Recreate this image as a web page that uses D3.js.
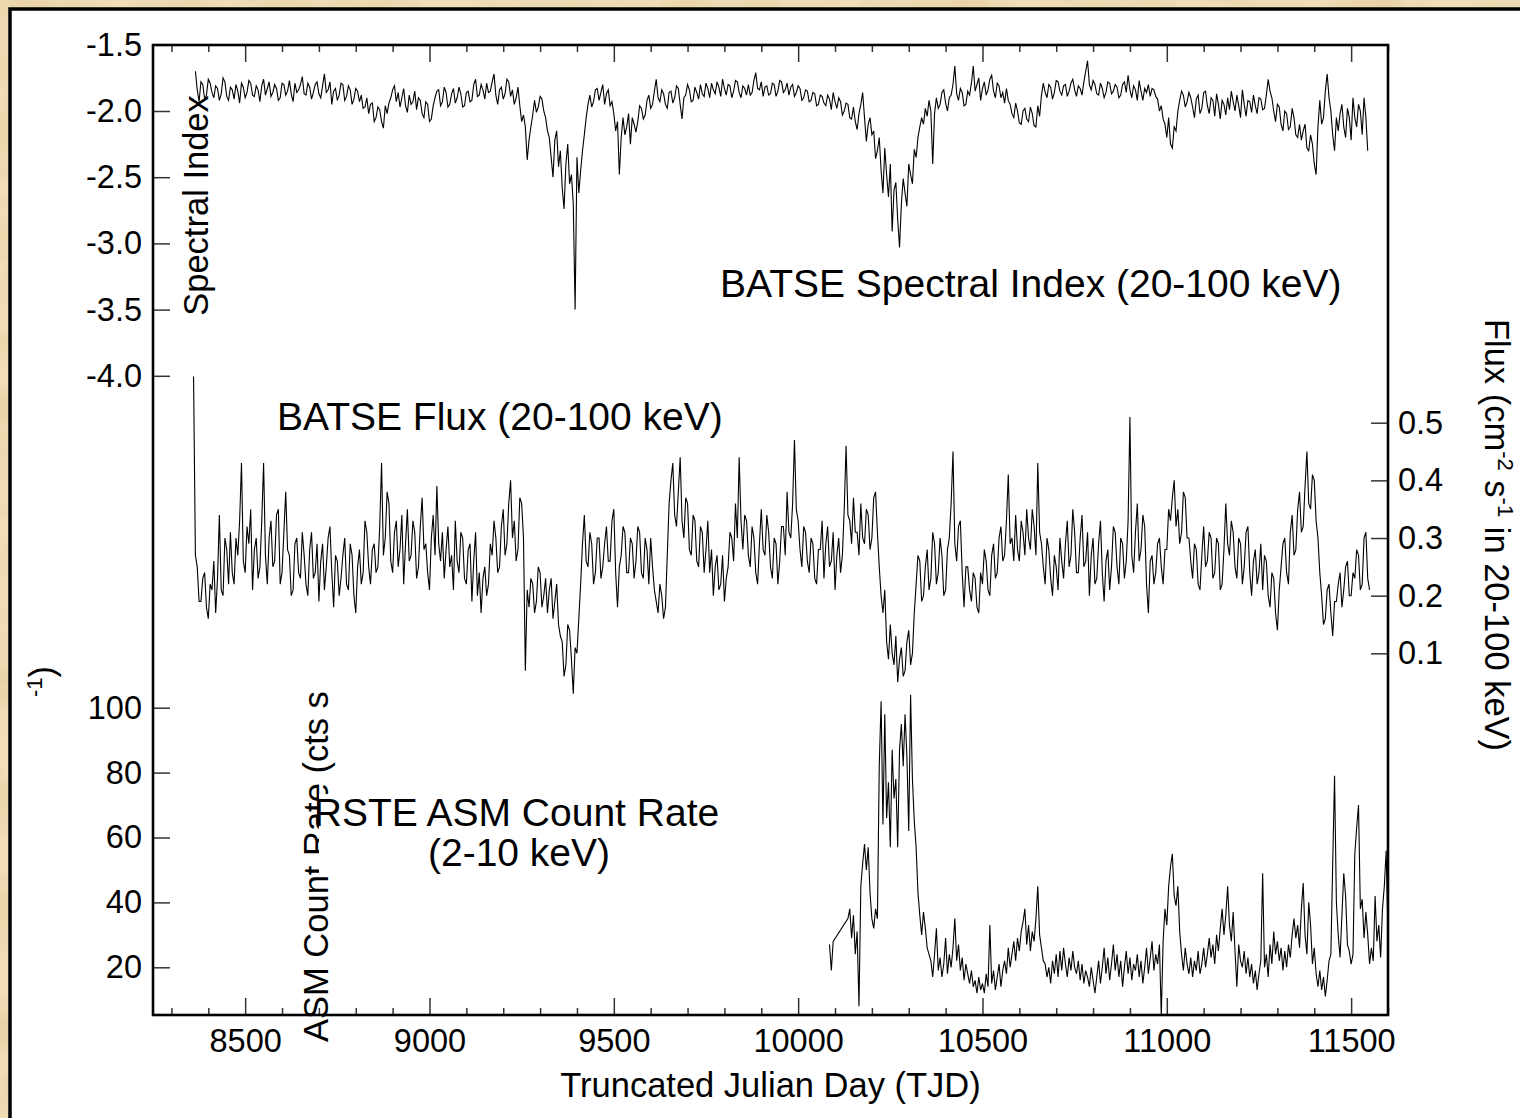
<!DOCTYPE html>
<html><head><meta charset="utf-8">
<script src="https://cdn.jsdelivr.net/npm/d3@7"></script>
<style>html,body{margin:0;padding:0;background:#f0ddb4;}svg{display:block;}</style>
</head><body>
<svg id="chart" width="1520" height="1118"></svg>
<script>
// ---------------- DATA ----------------
// BATSE spectral index (20-100 keV), first day and sampling step (TJD)
const specStart = 8365, specStep = 5;
const spectralIndex = [
 -1.70,-1.84,-1.93,-1.78,-1.80,-1.91,-1.88,-1.76,-1.79,-1.86,-1.90,-1.81,-1.83,-1.92,-1.87,-1.75,-1.78,-1.89,-1.92,-1.82,
 -1.84,-1.91,-1.80,-1.85,-1.94,-1.79,-1.82,-1.90,-1.86,-1.77,-1.79,-1.88,-1.89,-1.81,-1.84,-1.93,-1.81,-1.76,-1.88,-1.83,
 -1.78,-1.89,-1.86,-1.80,-1.83,-1.92,-1.90,-1.79,-1.80,-1.88,-1.85,-1.77,-1.87,-1.93,-1.79,-1.86,-1.84,-1.80,-1.74,-1.87,
 -1.88,-1.79,-1.82,-1.91,-1.86,-1.80,-1.78,-1.87,-1.90,-1.81,-1.72,-1.86,-1.84,-1.78,-1.95,-1.85,-1.83,-1.92,-1.88,-1.79,
 -1.80,-1.92,-1.89,-1.81,-1.84,-1.95,-1.91,-1.83,-1.85,-1.93,-1.88,-1.98,-1.97,-1.90,-2.02,-1.95,-1.94,-2.08,-2.05,-1.97,
 -1.99,-2.08,-2.13,-1.96,-2.02,-1.94,-1.90,-1.84,-1.81,-1.93,-1.86,-1.97,-1.90,-1.83,-1.96,-2.01,-1.88,-1.95,-1.93,-1.85,
 -1.99,-1.90,-1.92,-2.02,-2.05,-1.93,-1.95,-2.08,-2.06,-1.96,-1.90,-1.85,-1.84,-1.96,-1.93,-1.82,-1.86,-1.97,-1.95,-1.87,
 -1.83,-1.94,-1.90,-1.82,-1.87,-1.97,-1.96,-1.86,-1.85,-1.93,-1.92,-1.80,-1.76,-1.89,-1.88,-1.80,-1.84,-1.91,-1.79,-1.86,
 -1.85,-1.78,-1.72,-1.88,-1.95,-1.84,-1.82,-1.91,-1.87,-1.76,-1.78,-1.89,-1.84,-1.95,-1.90,-1.82,-1.96,-2.08,-2.03,-2.12,
 -2.37,-2.22,-2.12,-2.03,-1.92,-2.01,-1.97,-1.89,-1.91,-2.00,-2.05,-2.15,-2.20,-2.35,-2.50,-2.22,-2.15,-2.42,-2.30,-2.58,
 -2.74,-2.40,-2.25,-2.55,-2.48,-2.70,-3.50,-2.35,-2.62,-2.45,-2.30,-2.18,-2.05,-1.95,-1.88,-1.97,-1.93,-1.84,-1.83,-1.92,
 -1.86,-1.80,-1.95,-1.87,-1.84,-1.96,-1.93,-2.02,-2.15,-2.08,-2.48,-2.20,-2.05,-2.18,-2.12,-2.02,-2.25,-2.05,-2.10,-2.16,
 -2.08,-1.96,-1.98,-2.06,-2.03,-1.92,-1.88,-1.98,-1.95,-1.85,-1.76,-1.90,-1.93,-1.84,-1.87,-1.95,-1.98,-1.86,-1.85,-1.94,
 -1.90,-1.81,-1.83,-1.95,-2.06,-1.90,-1.88,-1.80,-1.84,-1.93,-1.92,-1.82,-1.86,-1.91,-1.80,-1.87,-1.89,-1.79,-1.83,-1.90,
 -1.79,-1.84,-1.87,-1.78,-1.82,-1.89,-1.76,-1.83,-1.88,-1.80,-1.81,-1.90,-1.85,-1.77,-1.78,-1.86,-1.90,-1.81,-1.83,-1.88,
 -1.80,-1.88,-1.86,-1.77,-1.71,-1.83,-1.84,-1.78,-1.89,-1.82,-1.81,-1.88,-1.87,-1.79,-1.80,-1.89,-1.85,-1.77,-1.78,-1.86,
 -1.84,-1.79,-1.88,-1.82,-1.80,-1.89,-1.86,-1.81,-1.83,-1.92,-1.90,-1.84,-1.85,-1.93,-1.92,-1.86,-1.87,-1.96,-1.95,-1.88,
 -1.89,-1.94,-1.96,-1.88,-1.91,-1.99,-1.86,-1.93,-1.98,-1.90,-1.93,-2.03,-2.00,-1.94,-1.95,-2.05,-2.06,-1.97,-2.08,-2.14,
 -2.02,-1.95,-1.86,-2.05,-2.23,-2.10,-2.05,-2.18,-2.15,-2.36,-2.30,-2.20,-2.45,-2.62,-2.28,-2.48,-2.65,-2.40,-2.91,-2.60,
 -2.54,-2.82,-3.03,-2.70,-2.51,-2.62,-2.72,-2.40,-2.48,-2.55,-2.29,-2.35,-2.20,-2.12,-2.05,-2.10,-1.98,-2.04,-1.92,-2.00,
 -2.40,-2.02,-1.90,-1.98,-1.95,-1.86,-1.84,-1.94,-2.00,-1.90,-1.88,-1.80,-1.66,-1.87,-1.92,-1.83,-1.86,-1.96,-1.95,-1.85,
 -1.88,-1.79,-1.66,-1.85,-1.80,-1.75,-1.92,-1.83,-1.78,-1.88,-1.84,-1.76,-1.73,-1.85,-1.90,-1.79,-1.81,-1.90,-1.86,-1.94,
 -1.83,-1.92,-1.95,-2.02,-2.05,-1.94,-2.00,-2.09,-2.10,-2.00,-1.98,-2.06,-2.08,-1.97,-2.02,-2.11,-2.12,-1.96,-2.04,-1.88,
 -1.79,-1.86,-1.90,-1.80,-1.82,-1.91,-1.86,-1.77,-1.78,-1.85,-1.88,-1.81,-1.80,-1.89,-1.85,-1.79,-1.76,-1.84,-1.89,-1.81,
 -1.83,-1.88,-1.78,-1.70,-1.62,-1.80,-1.84,-1.77,-1.80,-1.87,-1.88,-1.79,-1.83,-1.90,-1.86,-1.78,-1.79,-1.87,-1.85,-1.80,
 -1.82,-1.90,-1.88,-1.80,-1.78,-1.86,-1.73,-1.84,-1.90,-1.81,-1.84,-1.92,-1.77,-1.85,-1.92,-1.83,-1.86,-1.80,-1.89,-1.83,
 -1.84,-1.89,-1.91,-2.00,-1.96,-2.06,-2.10,-2.20,-2.05,-2.25,-2.28,-2.12,-2.15,-2.00,-1.92,-1.85,-1.88,-1.97,-1.93,-1.86,
 -1.90,-1.97,-2.05,-1.91,-1.88,-2.02,-1.98,-1.86,-1.85,-1.96,-2.02,-1.90,-1.92,-2.04,-1.87,-1.95,-2.06,-1.92,-1.95,-2.03,
 -1.90,-1.99,-1.85,-1.93,-2.00,-1.88,-1.96,-2.05,-1.84,-1.95,-2.04,-1.92,-1.93,-2.01,-1.88,-1.96,-2.02,-1.90,-1.91,-1.99,
 -1.98,-1.88,-1.76,-1.85,-1.90,-2.00,-2.08,-1.95,-1.97,-2.10,-2.15,-2.00,-2.02,-2.14,-2.12,-1.98,-2.05,-2.18,-2.20,-2.10,
 -2.22,-2.15,-2.10,-2.28,-2.30,-2.18,-2.25,-2.40,-2.48,-2.12,-1.92,-2.10,-2.05,-1.85,-1.72,-1.90,-2.00,-2.18,-2.30,-2.05,
 -2.15,-2.02,-1.95,-2.12,-2.20,-1.98,-2.05,-2.22,-1.90,-2.05,-2.12,-1.95,-2.00,-2.18,-1.90,-2.05,-2.30
];
// BATSE flux (cm^-2 s^-1, 20-100 keV)
const fluxStart = 8360, fluxStep = 5;
const batseFlux = [
 0.58,0.27,0.25,0.19,0.19,0.23,0.24,0.18,0.16,0.22,0.21,0.26,0.17,0.23,0.34,0.21,0.20,0.30,0.28,0.22,
 0.31,0.24,0.22,0.30,0.27,0.33,0.43,0.26,0.24,0.32,0.29,0.35,0.21,0.28,0.30,0.23,0.25,0.33,0.43,0.27,
 0.22,0.30,0.33,0.25,0.26,0.34,0.35,0.22,0.24,0.31,0.38,0.28,0.27,0.20,0.21,0.29,0.30,0.24,0.23,0.31,
 0.27,0.22,0.20,0.28,0.31,0.23,0.24,0.29,0.19,0.26,0.29,0.21,0.25,0.30,0.32,0.24,0.18,0.27,0.26,0.20,
 0.23,0.27,0.30,0.22,0.21,0.29,0.27,0.20,0.17,0.25,0.28,0.22,0.24,0.33,0.31,0.25,0.22,0.28,0.29,0.24,
 0.25,0.32,0.43,0.27,0.30,0.38,0.36,0.26,0.24,0.31,0.33,0.25,0.28,0.34,0.22,0.29,0.35,0.26,0.27,0.33,
 0.31,0.23,0.25,0.32,0.37,0.28,0.29,0.24,0.21,0.30,0.34,0.27,0.39,0.29,0.26,0.31,0.23,0.28,0.32,0.25,
 0.27,0.21,0.33,0.26,0.24,0.31,0.30,0.23,0.22,0.28,0.29,0.19,0.26,0.31,0.20,0.24,0.17,0.23,0.25,0.20,
 0.22,0.29,0.27,0.33,0.30,0.24,0.25,0.32,0.35,0.27,0.29,0.36,0.40,0.30,0.33,0.26,0.28,0.37,0.36,0.30,
 0.07,0.21,0.18,0.23,0.22,0.17,0.19,0.25,0.24,0.18,0.20,0.23,0.17,0.21,0.23,0.16,0.19,0.22,0.15,0.13,
 0.12,0.06,0.08,0.15,0.14,0.09,0.03,0.11,0.10,0.16,0.22,0.29,0.34,0.26,0.25,0.31,0.29,0.22,0.24,0.30,
 0.30,0.23,0.25,0.29,0.32,0.26,0.26,0.33,0.35,0.24,0.18,0.25,0.27,0.32,0.31,0.24,0.24,0.30,0.29,0.23,
 0.26,0.32,0.31,0.24,0.23,0.30,0.28,0.22,0.30,0.25,0.21,0.19,0.17,0.22,0.20,0.16,0.18,0.27,0.36,0.40,
 0.43,0.34,0.32,0.38,0.44,0.33,0.30,0.37,0.36,0.28,0.27,0.34,0.33,0.26,0.25,0.32,0.31,0.24,0.28,0.33,
 0.24,0.28,0.20,0.25,0.27,0.21,0.22,0.27,0.19,0.23,0.25,0.31,0.30,0.26,0.36,0.30,0.44,0.33,0.28,0.34,
 0.33,0.27,0.25,0.32,0.30,0.24,0.22,0.29,0.35,0.28,0.27,0.34,0.31,0.25,0.23,0.30,0.29,0.22,0.26,0.32,
 0.32,0.27,0.38,0.31,0.30,0.36,0.47,0.35,0.33,0.28,0.25,0.32,0.31,0.26,0.24,0.30,0.29,0.23,0.22,0.28,
 0.28,0.33,0.23,0.29,0.32,0.25,0.26,0.31,0.21,0.27,0.30,0.24,0.27,0.35,0.46,0.34,0.33,0.29,0.37,0.31,
 0.31,0.27,0.36,0.30,0.29,0.35,0.34,0.28,0.30,0.37,0.38,0.31,0.25,0.20,0.17,0.21,0.12,0.09,0.15,0.10,
 0.08,0.13,0.05,0.09,0.11,0.06,0.07,0.12,0.14,0.08,0.10,0.17,0.22,0.27,0.26,0.19,0.20,0.25,0.28,0.21,
 0.23,0.31,0.29,0.22,0.24,0.30,0.27,0.20,0.21,0.28,0.30,0.36,0.45,0.29,0.26,0.32,0.33,0.24,0.18,0.25,
 0.25,0.21,0.19,0.24,0.23,0.18,0.17,0.24,0.22,0.28,0.26,0.21,0.20,0.27,0.29,0.23,0.24,0.30,0.32,0.26,
 0.27,0.33,0.41,0.29,0.30,0.26,0.34,0.28,0.26,0.33,0.31,0.27,0.35,0.30,0.28,0.35,0.32,0.27,0.43,0.31,
 0.29,0.25,0.22,0.30,0.28,0.23,0.20,0.27,0.25,0.21,0.30,0.26,0.23,0.29,0.33,0.25,0.27,0.35,0.31,0.24,
 0.24,0.30,0.34,0.25,0.26,0.31,0.20,0.27,0.30,0.22,0.23,0.29,0.33,0.24,0.19,0.26,0.28,0.21,0.25,0.32,
 0.31,0.25,0.22,0.30,0.29,0.23,0.26,0.33,0.51,0.27,0.24,0.31,0.36,0.26,0.28,0.34,0.32,0.22,0.17,0.26,
 0.27,0.22,0.24,0.29,0.30,0.25,0.22,0.28,0.28,0.35,0.33,0.37,0.40,0.32,0.35,0.29,0.31,0.38,0.37,0.30,
 0.30,0.26,0.23,0.29,0.28,0.22,0.21,0.27,0.32,0.25,0.26,0.31,0.30,0.23,0.24,0.30,0.29,0.21,0.22,0.28,
 0.36,0.29,0.27,0.33,0.31,0.25,0.23,0.30,0.29,0.22,0.25,0.31,0.32,0.24,0.20,0.26,0.28,0.22,0.24,0.29,
 0.21,0.27,0.26,0.20,0.18,0.24,0.23,0.17,0.14,0.21,0.25,0.29,0.30,0.24,0.22,0.31,0.34,0.27,0.28,0.35,
 0.38,0.31,0.32,0.39,0.45,0.36,0.35,0.41,0.40,0.33,0.30,0.24,0.20,0.15,0.16,0.21,0.22,0.17,0.13,0.19,
 0.19,0.22,0.24,0.18,0.21,0.25,0.26,0.20,0.20,0.24,0.23,0.28,0.27,0.21,0.22,0.30,0.31,0.23,0.21
];
// RXTE ASM count rate (cts/s, 2-10 keV); null = no measurement
const asmStart = 10085, asmStep = 5;
const asmRate = [
 27,19,28,null,null,null,null,null,null,null,
 35,38,29,36,24,31,8,45,52,58,
 50,57,43,35,32,38,35,82,102,64,
 98,66,77,57,87,72,78,57,87,95,
 82,98,85,62,104,78,65,57,43,36,
 30,37,32,26,24,
 22,17,24,32,19,23,17,21,29,18,24,20,26,35,22,27,19,23,16,21,18,15,19,14,
 16,12,17,13,15,12,18,14,33,15,19,13,17,21,14,19,
 22,18,26,20,24,28,22,29,25,31,34,38,27,33,25,31,28,35,45,30,26,22,21,17,
 20,15,22,18,24,17,25,19,26,21,17,23,19,25,20,18,22,16,21,15,19,17,14,20,16,12,
 17,22,15,20,26,18,23,16,21,27,19,24,17,22,14,20,25,18,23,16,21,19,24,17,22,15,20,26,18,23,28,19,24,21,27,5,
 28,38,33,45,51,55,42,39,45,31,
 24,19,26,21,18,23,17,22,19,25,18,21,26,20,24,29,23,27,21,30,25,
 32,38,30,36,45,33,28,37,25,14,27,22,
 20,25,18,23,17,21,15,19,13,18,22,49,20,24,17,27,21,31,24,28,22,26,19,25,20,27,23,30,
 35,29,33,26,38,46,30,24,40,33,21,26,
 18,14,19,13,17,11,16,22,
 24,52,79,40,30,23,36,49,42,27,
 25,21,24,55,63,70,38,41,29,37,
 30,21,26,22,42,28,33,23,38,45,56,30
];
// Tick values / labels
const dayTicks = [8500, 9000, 9500, 10000, 10500, 11000, 11500];
const dayMinorTicks = [8300,8400,8600,8700,8800,8900,9100,9200,9300,9400,9600,9700,9800,9900,
  10100,10200,10300,10400,10600,10700,10800,10900,11100,11200,11300,11400,11600];
const specTicks = [-1.5, -2.0, -2.5, -3.0, -3.5, -4.0];
const fluxTicks = [0.1, 0.2, 0.3, 0.4, 0.5];
const asmTicks = [20, 40, 60, 80, 100];

// ---------------- DRAWING ----------------
const FONT = "'Liberation Sans', Arial, Helvetica, sans-serif";
const svg = d3.select("#chart");
const W = 1520, H = 1118;
const L = 153, R = 1388, T = 45, B = 1015;

const defs = svg.append("defs");
const f = defs.append("filter").attr("id","paper").attr("x",0).attr("y",0).attr("width",1).attr("height",1);
f.append("feTurbulence").attr("type","fractalNoise").attr("baseFrequency","0.012 0.018").attr("numOctaves",4).attr("seed",7);
f.append("feColorMatrix").attr("type","matrix")
 .attr("values","0 0 0 0 0.76  0 0 0 0 0.60  0 0 0 0 0.36  1.8 0 0 0 -0.72");
defs.append("clipPath").attr("id","plotclip").append("rect")
  .attr("x",L).attr("y",T).attr("width",R-L).attr("height",B-T);

svg.append("rect").attr("width",W).attr("height",H).attr("fill","#f1deb6");
svg.append("rect").attr("width",W).attr("height",H).attr("filter","url(#paper)");
svg.append("rect").attr("x",10).attr("y",9).attr("width",W).attr("height",H)
  .attr("fill","#fff").attr("stroke","#000").attr("stroke-width",3.5);

const x = d3.scaleLinear().domain([8250, 11600]).range([L, R]);
const ySpec = d3.scaleLinear().domain([-1.5, -4.0]).range([44.8, 375.8]);
const yFlux = d3.scaleLinear().domain([0, 0.5]).range([711, 422.7]);
const yAsm = d3.scaleLinear().domain([0, 100]).range([1032.2, 707.7]);

function toPts(arr, start, step){
  return arr.map((v,i)=>({t:start+i*step, v})).filter(d=>d.v!==null);
}
const plot = svg.append("g").attr("clip-path","url(#plotclip)");
function drawLine(pts, y){
  plot.append("path").datum(pts)
   .attr("fill","none").attr("stroke","#000").attr("stroke-width",1.1)
   .attr("stroke-linejoin","miter")
   .attr("d", d3.line().x(d=>x(d.t)).y(d=>y(d.v)));
}
drawLine(toPts(spectralIndex, specStart, specStep), ySpec);
drawLine(toPts(batseFlux, fluxStart, fluxStep), yFlux);
drawLine(toPts(asmRate, asmStart, asmStep), yAsm);

function styleAxis(g, fs){
  g.select(".domain").remove();
  g.selectAll(".tick line").attr("stroke","#333").attr("stroke-width",1.5);
  g.selectAll("text").attr("font-family",FONT).attr("font-size",fs).attr("fill","#000");
  g.attr("font-family",null).attr("font-size",null);
}
const fmt1 = d => d.toFixed(1);
// bottom
styleAxis(svg.append("g").attr("transform",`translate(0,${B})`)
  .call(d3.axisBottom(x).tickValues(dayTicks).tickSize(-17).tickPadding(14).tickFormat(d=>String(d))), 32.5);
styleAxis(svg.append("g").attr("transform",`translate(0,${B})`)
  .call(d3.axisBottom(x).tickValues(dayMinorTicks).tickSize(-7).tickFormat("")), 32.5);
// top
styleAxis(svg.append("g").attr("transform",`translate(0,${T})`)
  .call(d3.axisTop(x).tickValues(dayTicks).tickSize(-17).tickFormat("")), 32.5);
styleAxis(svg.append("g").attr("transform",`translate(0,${T})`)
  .call(d3.axisTop(x).tickValues(dayMinorTicks).tickSize(-7).tickFormat("")), 32.5);
// left spectral index
styleAxis(svg.append("g").attr("transform",`translate(${L},0)`)
  .call(d3.axisLeft(ySpec).tickValues(specTicks).tickSize(-17).tickPadding(11).tickFormat(fmt1)), 32.5);
// left ASM
styleAxis(svg.append("g").attr("transform",`translate(${L},0)`)
  .call(d3.axisLeft(yAsm).tickValues(asmTicks).tickSize(-17).tickPadding(11).tickFormat(d=>String(d))), 32.5);
// right flux
styleAxis(svg.append("g").attr("transform",`translate(${R},0)`)
  .call(d3.axisRight(yFlux).tickValues(fluxTicks).tickSize(-17).tickPadding(10).tickFormat(fmt1)), 32.5);

// frame
svg.append("rect").attr("x",L).attr("y",T).attr("width",R-L).attr("height",B-T)
  .attr("fill","none").attr("stroke","#000").attr("stroke-width",2.6);

function txt(x0,y0,s,fs,anchor,rot){
  const t = svg.append("text").attr("font-family",FONT).attr("font-size",fs)
    .attr("text-anchor",anchor||"start").attr("fill","#000")
    .attr("transform",`translate(${x0},${y0})`+(rot?` rotate(${rot})`:""));
  if (s!==null) t.text(s);
  return t;
}
// axis titles
txt(208,205.5,"Spectral Index",34.5,"middle",-90);
txt(770.5,1097,"Truncated Julian Day (TJD)",34.5,"middle");
const ft = txt(1485,535,null,34.5,"middle",90);
ft.append("tspan").text("Flux (cm");
ft.append("tspan").attr("font-size",22).attr("dy",-13).text("-2");
ft.append("tspan").attr("dy",13).text(" s");
ft.append("tspan").attr("font-size",22).attr("dy",-13).text("-1");
ft.append("tspan").attr("dy",13).text(" in 20-100 keV)");
// ASM title (partly hidden by label box, superscript displaced as in the original)
txt(328,1042,"ASM Count Rate (cts s",34.5,"start",-90);
const sup = txt(54,697,null,34.5,"start",-90);
sup.append("tspan").attr("font-size",22).attr("dy",-12).text("-1");
sup.append("tspan").attr("dy",12).text(")");

// annotations
txt(720,297,"BATSE Spectral Index (20-100 keV)",39,"start");
txt(277,430,"BATSE Flux (20-100 keV)",39,"start");
svg.append("rect").attr("x",319).attr("y",794).attr("width",405).attr("height",79).attr("fill","#fff");
txt(516.5,826,"RSTE ASM Count Rate",39,"middle");
txt(519,866,"(2-10 keV)",39,"middle");
</script>
</body></html>
